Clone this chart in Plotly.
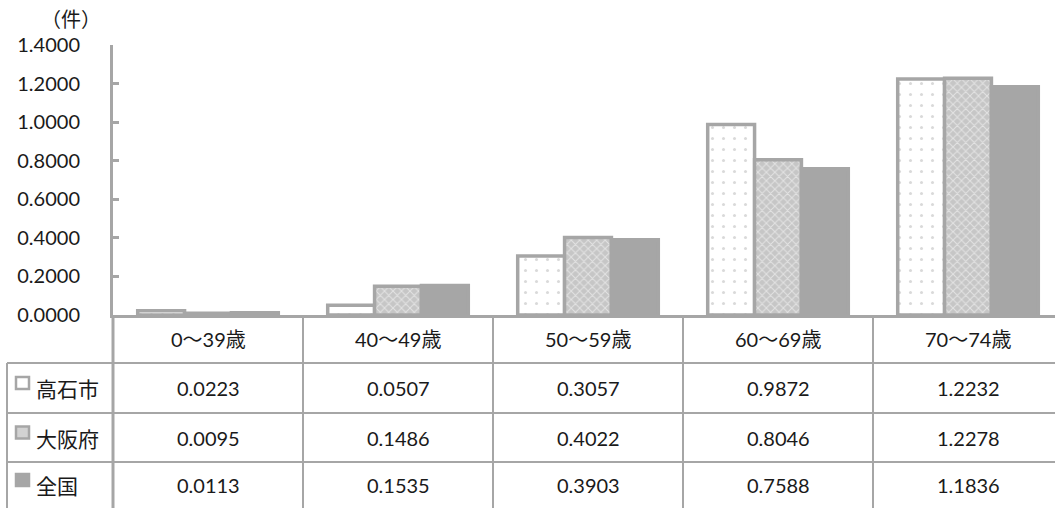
import plotly.graph_objects as go

# Canvas size in pixels
W, H = 1055, 508

# ---- data ----
age_groups = ["0～39歳", "40～49歳", "50～59歳", "60～69歳", "70～74歳"]
series_names = ["高石市", "大阪府", "全国"]
takaishi = [0.0223, 0.0507, 0.3057, 0.9872, 1.2232]
osaka = [0.0095, 0.1486, 0.4022, 0.8046, 1.2278]
national = [0.0113, 0.1535, 0.3903, 0.7588, 1.1836]
y_ticks = [0.0, 0.2, 0.4, 0.6, 0.8, 1.0, 1.2, 1.4]
unit_label = "（件）"

# ---- styling ----
GRAY = "#a6a6a6"
TEXT = "#1a1a1a"
FONT = "Lato, 'Noto Sans CJK JP', sans-serif"
CJK_FONT = "'Noto Sans CJK JP', sans-serif"
NUM_SIZE = 20

# pixel -> paper helpers for the layout grid
def px_x(p):
    return p / W


def px_y(p):
    return 1 - p / H


PLOT_LEFT = 113      # y axis position
PLOT_TOP = 45        # top of value axis
PLOT_BOTTOM = 315    # baseline
COL_W = 190          # width of one category column
TABLE_LEFT = 7
ROW_LINES = [363, 413, 462]          # horizontal rules of the data table
ROW_CENTERS = [388, 437.5, 485]      # centres of the three series rows
HEADER_CENTER = 339

series_values = [takaishi, osaka, national]
patterns = [
    dict(shape=".", fgcolor="#b3b3b3", bgcolor="#ffffff", size=11, solidity=0.06),
    dict(shape="x", fgcolor="#ffffff", bgcolor="#c6c6c6", size=6, solidity=0.3),
    None,
]
fills = ["#ffffff", "#c8c8c8", GRAY]

fig = go.Figure()
for name, vals, pat, fill in zip(series_names, series_values, patterns, fills):
    marker = dict(color=fill, line=dict(color=GRAY, width=3.5))
    if pat is not None:
        marker["pattern"] = pat
    fig.add_trace(go.Bar(name=name, x=age_groups, y=vals, marker=marker))

x_span = (W - PLOT_LEFT) / COL_W

fig.update_layout(
    width=W,
    height=H,
    margin=dict(l=0, r=0, t=0, b=0, pad=0),
    paper_bgcolor="#ffffff",
    plot_bgcolor="#ffffff",
    barmode="group",
    bargap=0.26,
    bargroupgap=0,
    showlegend=False,
    font=dict(family=FONT, size=NUM_SIZE, color=TEXT),
    xaxis=dict(
        type="category",
        automargin=False,
        domain=[px_x(PLOT_LEFT), 1],
        range=[-0.5, -0.5 + x_span],
        showticklabels=False,
        ticks="",
        showgrid=False,
        zeroline=False,
        showline=True,
        linecolor=GRAY,
        linewidth=3,
    ),
    yaxis=dict(
        automargin=False,
        domain=[px_y(PLOT_BOTTOM), px_y(PLOT_TOP)],
        range=[0, 1.4],
        tickvals=y_ticks,
        tickformat=".4f",
        ticks="inside",
        ticklen=6,
        tickwidth=3,
        tickcolor=GRAY,
        ticklabelstandoff=26,
        showgrid=False,
        zeroline=False,
        showline=True,
        linecolor=GRAY,
        linewidth=3,
        tickfont=dict(family=FONT, size=NUM_SIZE, color=TEXT),
    ),
)

shapes = []
line_style = dict(color=GRAY, width=2)

# column rules of the table (category boundaries)
for k in range(len(age_groups)):
    shapes.append(dict(type="line", xref="x", yref="paper",
                       x0=k + 0.5, x1=k + 0.5,
                       y0=px_y(PLOT_BOTTOM), y1=0, line=line_style))
# continuation of the value axis through the table
shapes.append(dict(type="line", xref="paper", yref="paper",
                   x0=px_x(PLOT_LEFT), x1=px_x(PLOT_LEFT),
                   y0=px_y(PLOT_BOTTOM), y1=0, line=dict(color=GRAY, width=3)))
# left edge of the series-name column
shapes.append(dict(type="line", xref="paper", yref="paper",
                   x0=px_x(TABLE_LEFT), x1=px_x(TABLE_LEFT),
                   y0=px_y(ROW_LINES[0]), y1=0, line=line_style))
# row rules
for r in ROW_LINES:
    shapes.append(dict(type="line", xref="paper", yref="paper",
                       x0=px_x(TABLE_LEFT), x1=1,
                       y0=px_y(r), y1=px_y(r), line=line_style))

# small legend keys in front of the series names
key_fills = ["#ffffff", "#d2d2d2", GRAY]
for yc, kf in zip(ROW_CENTERS, key_fills):
    shapes.append(dict(type="rect", xref="paper", yref="paper",
                       x0=px_x(16), x1=px_x(29),
                       y0=px_y(yc + 1), y1=px_y(yc - 11),
                       fillcolor=kf, line=dict(color=GRAY, width=2.5)))

annotations = []
# header row: age groups
for g in age_groups:
    annotations.append(dict(x=g, xref="x", y=px_y(HEADER_CENTER), yref="paper",
                            text=g, showarrow=False,
                            xanchor="center", yanchor="middle",
                            font=dict(family=FONT, size=NUM_SIZE, color=TEXT)))
# series rows
for name, vals, yc in zip(series_names, series_values, ROW_CENTERS):
    annotations.append(dict(x=px_x(34), xref="paper", y=px_y(yc), yref="paper",
                            text=name, showarrow=False,
                            xanchor="left", yanchor="middle",
                            font=dict(family=CJK_FONT, size=21, color=TEXT)))
    for g, v in zip(age_groups, vals):
        annotations.append(dict(x=g, xref="x", y=px_y(yc), yref="paper",
                                text=f"{v:.4f}", showarrow=False,
                                xanchor="center", yanchor="middle",
                                font=dict(family=FONT, size=NUM_SIZE, color=TEXT)))
# unit label above the value axis
annotations.append(dict(x=px_x(71), xref="paper", y=px_y(18), yref="paper",
                        text=unit_label, showarrow=False,
                        xanchor="center", yanchor="middle",
                        font=dict(family=CJK_FONT, size=20, color=TEXT)))

fig.update_layout(shapes=shapes, annotations=annotations)

fig.write_html("out.html")
